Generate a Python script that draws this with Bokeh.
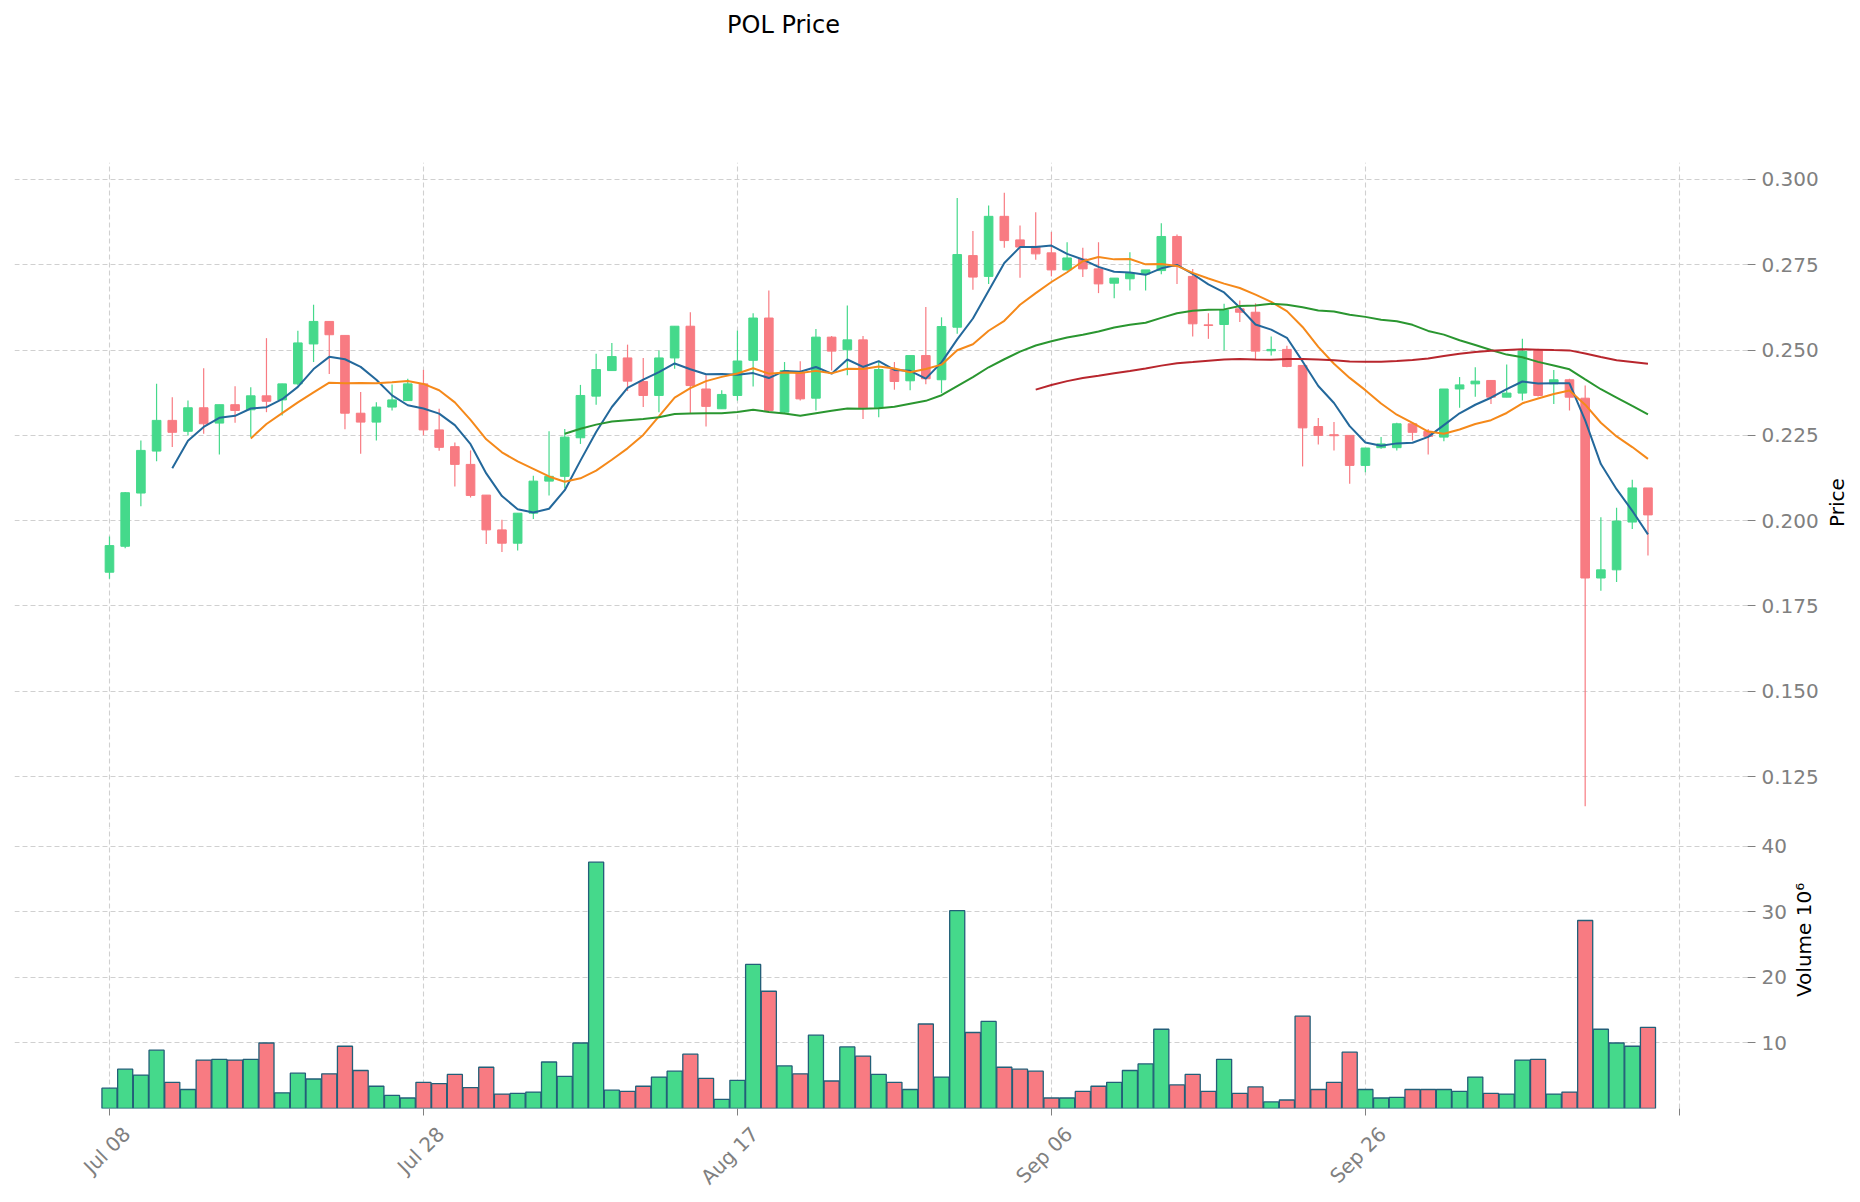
import math
import numpy as np
import pandas as pd
from bokeh.plotting import figure
from bokeh.models import FixedTicker, ColumnDataSource, Range1d, PrintfTickFormatter, LinearAxis
from bokeh.core.properties import value
from bokeh.layouts import column, row
from bokeh.embed import file_html
from bokeh.resources import INLINE

# ---------------- data ----------------
tick_days = [0, 20, 40, 60, 80, 100]
tick_labels = ["Jul 08", "Jul 28", "Aug 17", "Sep 06", "Sep 26", ""]

opens = [0.1849, 0.1925, 0.2081, 0.2204, 0.2294, 0.2262, 0.2331, 0.2286, 0.2340, 0.2325,
         0.2366, 0.2354, 0.2401, 0.2518, 0.2584, 0.2543, 0.2315, 0.2289, 0.2333, 0.2352,
         0.2401, 0.2266, 0.2217, 0.2165, 0.2075, 0.1973, 0.1934, 0.2022, 0.2116, 0.2130,
         0.2243, 0.2365, 0.2440, 0.2477, 0.2408, 0.2367, 0.2477, 0.2570, 0.2386, 0.2328,
         0.2367, 0.2470, 0.2594, 0.2318, 0.2435, 0.2359, 0.2538, 0.2501, 0.2530, 0.2331,
         0.2443, 0.2410, 0.2484, 0.2413, 0.2567, 0.2777, 0.2716, 0.2892, 0.2823, 0.2804,
         0.2785, 0.2735, 0.2767, 0.2738, 0.2696, 0.2709, 0.2723, 0.2733, 0.2833, 0.2716,
         0.2574, 0.2575, 0.2621, 0.2611, 0.2498, 0.2502, 0.2455, 0.2276, 0.2252, 0.2250,
         0.2162, 0.2214, 0.2214, 0.2284, 0.2262, 0.2245, 0.2386, 0.2401, 0.2411, 0.2362,
         0.2374, 0.2499, 0.2401, 0.2413, 0.2359, 0.1832, 0.1856, 0.1996, 0.2096]
highs = [0.1954, 0.2084, 0.2235, 0.2401, 0.2362, 0.2352, 0.2447, 0.2340, 0.2394, 0.2391,
         0.2535, 0.2401, 0.2557, 0.2633, 0.2584, 0.2543, 0.2377, 0.2347, 0.2399, 0.2416,
         0.2442, 0.2328, 0.2229, 0.2206, 0.2075, 0.2003, 0.2022, 0.2132, 0.2262, 0.2269,
         0.2398, 0.2489, 0.2521, 0.2516, 0.2477, 0.2499, 0.2570, 0.2611, 0.2426, 0.2382,
         0.2557, 0.2608, 0.2675, 0.2465, 0.2467, 0.2562, 0.2541, 0.2631, 0.2541, 0.2469,
         0.2465, 0.2484, 0.2626, 0.2596, 0.2946, 0.2849, 0.2924, 0.2961, 0.2865, 0.2904,
         0.2846, 0.2816, 0.2800, 0.2816, 0.2711, 0.2787, 0.2735, 0.2872, 0.2839, 0.2738,
         0.2608, 0.2636, 0.2645, 0.2637, 0.2540, 0.2513, 0.2455, 0.2301, 0.2289, 0.2250,
         0.2213, 0.2245, 0.2287, 0.2284, 0.2269, 0.2386, 0.2421, 0.2450, 0.2411, 0.2458,
         0.2533, 0.2504, 0.2442, 0.2416, 0.2396, 0.2010, 0.2038, 0.2120, 0.2096]
lows = [0.1830, 0.1919, 0.2042, 0.2174, 0.2216, 0.2250, 0.2255, 0.2194, 0.2287, 0.2245,
        0.2318, 0.2308, 0.2396, 0.2465, 0.2430, 0.2268, 0.2196, 0.2235, 0.2323, 0.2352,
        0.2250, 0.2205, 0.2100, 0.2068, 0.1932, 0.1908, 0.1913, 0.2005, 0.2074, 0.2095,
        0.2225, 0.2340, 0.2440, 0.2380, 0.2333, 0.2318, 0.2445, 0.2315, 0.2276, 0.2328,
        0.2352, 0.2393, 0.2321, 0.2315, 0.2352, 0.2323, 0.2440, 0.2426, 0.2298, 0.2303,
        0.2384, 0.2382, 0.2400, 0.2374, 0.2548, 0.2677, 0.2694, 0.2800, 0.2712, 0.2765,
        0.2716, 0.2733, 0.2714, 0.2667, 0.2652, 0.2675, 0.2675, 0.2722, 0.2694, 0.2540,
        0.2533, 0.2499, 0.2582, 0.2471, 0.2484, 0.2450, 0.2159, 0.2223, 0.2206, 0.2108,
        0.2142, 0.2211, 0.2206, 0.2235, 0.2194, 0.2233, 0.2331, 0.2363, 0.2342, 0.2362,
        0.2352, 0.2364, 0.2342, 0.2323, 0.1163, 0.1795, 0.1820, 0.1976, 0.1898]
closes = [0.1927, 0.2082, 0.2206, 0.2294, 0.2259, 0.2331, 0.2284, 0.2340, 0.2323, 0.2366,
          0.2350, 0.2401, 0.2521, 0.2584, 0.2545, 0.2315, 0.2289, 0.2333, 0.2354, 0.2401,
          0.2266, 0.2215, 0.2165, 0.2074, 0.1973, 0.1934, 0.2022, 0.2116, 0.2130, 0.2245,
          0.2367, 0.2443, 0.2481, 0.2409, 0.2367, 0.2477, 0.2570, 0.2396, 0.2335, 0.2370,
          0.2468, 0.2594, 0.2323, 0.2440, 0.2357, 0.2538, 0.2497, 0.2530, 0.2331, 0.2443,
          0.2408, 0.2484, 0.2416, 0.2569, 0.2780, 0.2714, 0.2892, 0.2821, 0.2802, 0.2782,
          0.2735, 0.2770, 0.2738, 0.2694, 0.2711, 0.2725, 0.2735, 0.2833, 0.2745, 0.2577,
          0.2572, 0.2618, 0.2611, 0.2497, 0.2502, 0.2452, 0.2272, 0.2250, 0.2249, 0.2162,
          0.2213, 0.2225, 0.2284, 0.2259, 0.2247, 0.2386, 0.2398, 0.2409, 0.2362, 0.2374,
          0.2497, 0.2367, 0.2413, 0.2362, 0.1832, 0.1856, 0.1999, 0.2096, 0.2017]
volumes_m = [3.1, 6.0, 5.1, 8.9, 4.0, 2.9, 7.4, 7.5, 7.4, 7.5,
             10.0, 2.4, 5.4, 4.5, 5.3, 9.5, 5.8, 3.4, 2.0, 1.6,
             4.0, 3.8, 5.2, 3.2, 6.3, 2.2, 2.3, 2.5, 7.1, 4.9,
             10.0, 37.6, 2.8, 2.6, 3.4, 4.8, 5.7, 8.3, 4.6, 1.4,
             4.3, 22.0, 17.9, 6.5, 5.3, 11.2, 4.2, 9.4, 8.0, 5.2,
             4.0, 2.9, 12.9, 4.8, 30.2, 11.6, 13.3, 6.3, 6.0, 5.7,
             1.6, 1.6, 2.6, 3.4, 4.0, 5.8, 6.8, 12.1, 3.6, 5.2,
             2.6, 7.5, 2.3, 3.3, 1.0, 1.3, 14.1, 2.9, 4.0, 8.6,
             2.9, 1.6, 1.7, 2.9, 2.9, 2.9, 2.6, 4.8, 2.3, 2.2,
             7.4, 7.5, 2.2, 2.5, 28.7, 12.1, 10.0, 9.5, 12.4]

price_ticks = [0.125, 0.150, 0.175, 0.200, 0.225, 0.250, 0.275, 0.300]
volume_ticks = [10, 20, 30, 40]
ma_windows = [5, 10, 30, 60]
ma_colors = ["#23689b", "#f5891a", "#2a9630", "#b8262d"]
title_text = "POL Price"
price_label = "Price"
volume_label = "Volume  10⁶"

# ---------------- styling ----------------
GREEN = "#45d98b"
RED = "#f87b82"
VOL_EDGE = "#235f78"
GRID = "#d0d0d0"
TICK_GREY = "#808080"
FONT = "DejaVu Sans"

n = len(closes)
idx = np.arange(n)
colors = [GREEN if c >= o else RED for o, c in zip(opens, closes)]
src = ColumnDataSource(dict(
    x=idx, l=lows, h=highs,
    top=np.maximum(opens, closes), bot=np.minimum(opens, closes),
    color=colors, vol=volumes_m,
))

X0, X1 = -6.05, 104.34
x_range = Range1d(X0, X1)
FW = 1733
CANVAS_W = 1855
P_RIGHT = 75      # price panel right border (tick marks + tick labels)
V_RIGHT = 45      # volume panel right border
V_BOTTOM = 92     # volume panel bottom border (date axis)
P_H, V_H = 665, 281


def blank_strip(w, h):
    f = figure(width=w, height=h, x_range=Range1d(0, w), y_range=Range1d(0, h),
               x_axis_location=None, y_axis_location=None, output_backend="svg",
               toolbar_location=None, min_border=0)
    f.grid.visible = False
    f.outline_line_color = None
    f.background_fill_color = "white"
    f.border_fill_color = "white"
    return f


def style_common(fig):
    fig.outline_line_color = None
    fig.background_fill_color = "white"
    fig.border_fill_color = "white"
    for g in fig.grid:
        g.grid_line_color = GRID
        g.grid_line_dash = "5 3"
        g.grid_line_width = 1.1


def style_yaxis(ax, ticks):
    ax.ticker = FixedTicker(ticks=ticks)
    ax.axis_line_color = None
    ax.major_tick_line_color = TICK_GREY
    ax.major_tick_out = 8
    ax.major_tick_in = 0
    ax.minor_tick_line_color = None
    ax.major_label_text_color = TICK_GREY
    ax.major_label_text_font = FONT
    ax.major_label_text_font_size = "20px"
    ax.major_label_standoff = 6


# ---------------- title strip ----------------
t = blank_strip(CANVAS_W, 162)
t.text(x=[783], y=[138], text=[title_text], text_font=value(FONT), text_font_size=value("24px"),
       text_color="black", text_align="center", text_baseline="middle")

# ---------------- price panel ----------------
p = figure(frame_width=FW, frame_height=P_H, x_range=x_range,
           y_range=Range1d(0.11008, 0.30498),
           x_axis_location=None, y_axis_location="right",
           output_backend="svg", toolbar_location=None,
           min_border_left=14, min_border_top=0, min_border_bottom=0, min_border_right=P_RIGHT)
style_common(p)
p.xgrid.ticker = FixedTicker(ticks=tick_days)
style_yaxis(p.yaxis[0], price_ticks)
p.yaxis[0].formatter = PrintfTickFormatter(format="%.3f")

p.segment(x0="x", y0="l", x1="x", y1="h", color="color", line_width=1.2, source=src)
p.vbar(x="x", width=0.55, top="top", bottom="bot", fill_color="color",
       line_color="color", line_width=1, source=src)

close_s = pd.Series(closes)
for w, col in zip(ma_windows, ma_colors):
    ma = close_s.rolling(w).mean().to_numpy()
    p.line(idx[w - 1:], ma[w - 1:], line_color=col, line_width=2)

p_w = 14 + FW + P_RIGHT
sp = blank_strip(CANVAS_W - p_w, P_H)
sp.text(x=[1836 - p_w], y=[P_H - (502 - 162)], text=[price_label], angle=math.pi / 2,
        text_font=value(FONT), text_font_size=value("20px"), text_color="black",
        text_align="center", text_baseline="middle")

# ---------------- volume panel ----------------
LABEL_SHIFT = 1.1
v = figure(frame_width=FW, frame_height=V_H, x_range=x_range,
           y_range=Range1d(0, 42.9),
           x_axis_location="below", y_axis_location="right",
           output_backend="svg", toolbar_location=None,
           min_border_left=14, min_border_top=0, min_border_bottom=V_BOTTOM,
           min_border_right=V_RIGHT)
v.extra_x_ranges = {"lab": Range1d(X0 - LABEL_SHIFT, X1 - LABEL_SHIFT)}
style_common(v)
style_yaxis(v.yaxis[0], volume_ticks)

# axis carrying the tick marks
xa = v.xaxis[0]
xa.ticker = FixedTicker(ticks=tick_days)
xa.major_label_overrides = {d: "" for d in tick_days}
xa.major_label_text_font_size = "1px"
xa.major_label_standoff = 0
xa.axis_line_color = None
xa.major_tick_line_color = TICK_GREY
xa.major_tick_out = 7
xa.major_tick_in = 0
xa.minor_tick_line_color = None

# axis carrying the rotated date labels
xb = LinearAxis(x_range_name="lab")
xb.ticker = FixedTicker(ticks=tick_days)
xb.major_label_overrides = {d: lab for d, lab in zip(tick_days, tick_labels)}
xb.axis_line_color = None
xb.major_tick_line_color = None
xb.major_tick_out = 0
xb.major_tick_in = 0
xb.minor_tick_line_color = None
xb.major_label_text_color = TICK_GREY
xb.major_label_text_font = FONT
xb.major_label_text_font_size = "20px"
xb.major_label_orientation = math.pi / 4
xb.major_label_standoff = 15
v.add_layout(xb, "below")

v.vbar(x="x", width=0.96, top="vol", bottom=0, fill_color="color",
       line_color=VOL_EDGE, line_width=1.3, source=src)

v_w = 14 + FW + V_RIGHT
SV_H = V_H + V_BOTTOM
sv = blank_strip(CANVAS_W - v_w, SV_H)
sv.text(x=[1803 - v_w], y=[SV_H - (972 - 827)], text=[volume_label], angle=math.pi / 2,
        text_font=value(FONT), text_font_size=value("20px"), text_color="black",
        text_align="center", text_baseline="middle")

layout = column(t, row(p, sp, spacing=0), row(v, sv, spacing=0), spacing=0)
open("out.html", "w").write(file_html(layout, INLINE))
